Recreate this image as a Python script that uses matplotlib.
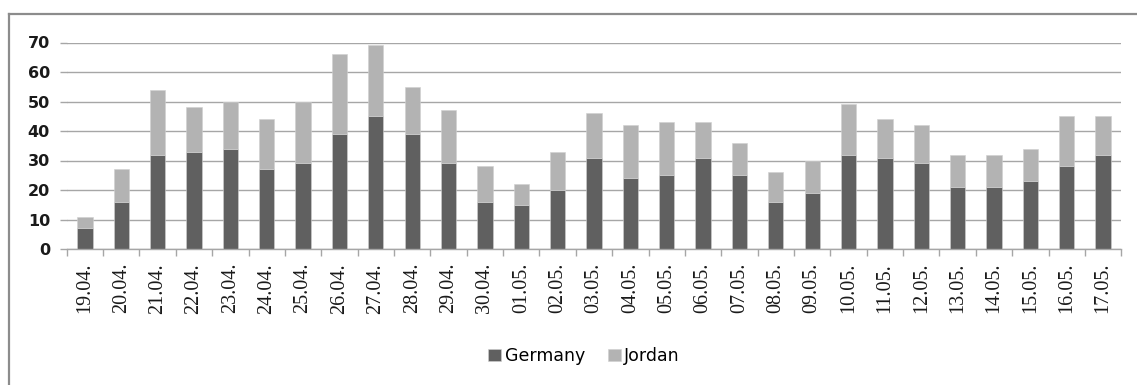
import matplotlib
matplotlib.use("Agg")
import matplotlib.pyplot as plt
from matplotlib.lines import Line2D
import numpy as np

# daily counts, stacked: Germany at the bottom, Jordan on top
dates = ["19.04.", "20.04.", "21.04.", "22.04.", "23.04.", "24.04.", "25.04.",
         "26.04.", "27.04.", "28.04.", "29.04.", "30.04.", "01.05.", "02.05.",
         "03.05.", "04.05.", "05.05.", "06.05.", "07.05.", "08.05.", "09.05.",
         "10.05.", "11.05.", "12.05.", "13.05.", "14.05.", "15.05.", "16.05.",
         "17.05."]
germany = [7, 16, 32, 33, 34, 27, 29, 39, 45, 39, 29, 16, 15, 20, 31, 24, 25,
           31, 25, 16, 19, 32, 31, 29, 21, 21, 23, 28, 32]
totals = [11, 27, 54, 48, 50, 44, 50, 66, 69, 55, 47, 28, 22, 33, 46, 42, 43,
          43, 36, 26, 30, 49, 44, 42, 32, 32, 34, 45, 45]
jordan = [t - g for t, g in zip(totals, germany)]

C_GER = "#606060"
C_JOR = "#b3b3b3"
C_GRID = "#a6a6a6"

W, H = 1137, 385
fig = plt.figure(figsize=(W / 100, H / 100), dpi=100)

# outer chart frame: only the left and top edges fall inside the image
fx, fy = 8.5 / W, 1 - 13.5 / H
fig.lines.append(Line2D([fx, fx], [0, fy], transform=fig.transFigure,
                        color="#8c8c8c", linewidth=1.6))
fig.lines.append(Line2D([fx, 1], [fy, fy], transform=fig.transFigure,
                        color="#8c8c8c", linewidth=1.6))

ax = fig.add_axes([66.7 / W, 1 - 249 / H, (1121.3 - 66.7) / W, (249 - 42.5) / H])

x = np.arange(len(dates))
ax.bar(x, germany, width=0.42, color=C_GER, label="Germany", zorder=3,
       edgecolor="#d0d0d0", linewidth=0.4)
ax.bar(x, jordan, width=0.42, bottom=germany, color=C_JOR, label="Jordan",
       zorder=3, edgecolor="#d0d0d0", linewidth=0.4)

ax.set_xlim(-0.5, len(dates) - 0.5)
ax.set_ylim(0, 70)
ax.set_yticks(range(0, 71, 10))
ax.yaxis.grid(True, color=C_GRID, linewidth=1.0, zorder=0)
ax.set_axisbelow(True)

for s in ("top", "right", "left"):
    ax.spines[s].set_visible(False)
ax.spines["bottom"].set_color(C_GRID)
ax.spines["bottom"].set_linewidth(1.0)
ax.spines["bottom"].set_zorder(4)

ax.tick_params(axis="y", direction="out", length=5, width=1.0, color=C_GRID,
               pad=7)
for lbl in ax.get_yticklabels():
    lbl.set_fontfamily("DejaVu Sans")
    lbl.set_fontweight("bold")
    lbl.set_fontsize(11.5)
    lbl.set_color("#1a1a1a")

ax.set_xticks(x)
ax.set_xticklabels(dates, rotation=90, fontfamily="Liberation Serif",
                   fontsize=14.5, color="#1a1a1a")
ax.set_xticks(np.arange(-0.5, len(dates), 1.0), minor=True)
ax.tick_params(axis="x", which="major", length=0, pad=10)
ax.tick_params(axis="x", which="minor", direction="out", length=5, width=1.0,
               color=C_GRID)

fig.legend(loc="center", bbox_to_anchor=(584 / W, 1 - 356 / H), ncol=2,
           frameon=False, handlelength=0.75, handleheight=0.75,
           handletextpad=0.2, columnspacing=1.3,
           prop={"family": "DejaVu Sans", "size": 12.5})

fig.savefig("out.png", dpi=100)
